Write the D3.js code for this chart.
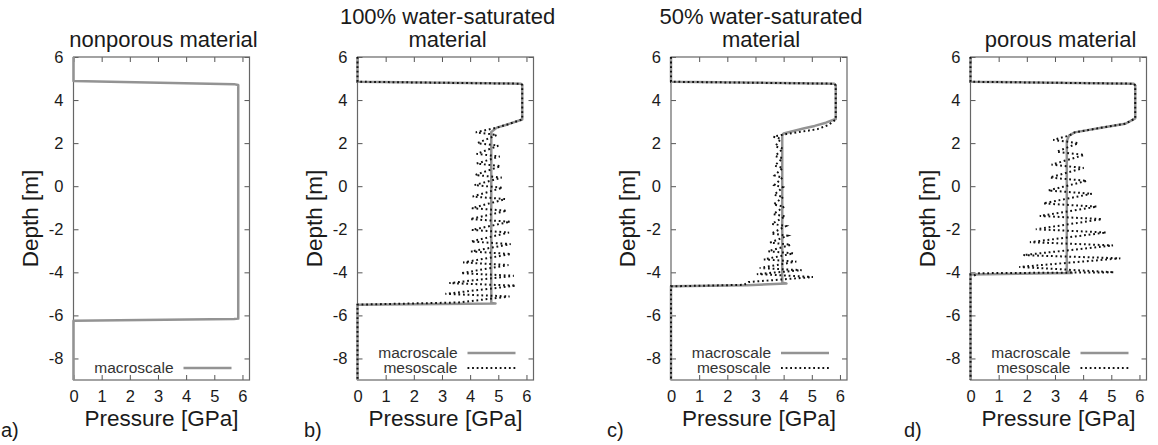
<!DOCTYPE html>
<html>
<head>
<meta charset="utf-8">
<script src="https://cdn.jsdelivr.net/npm/d3@7"></script>
<style>
  body { margin: 0; background: #fff; }
  text { font-family: "Liberation Sans", Arial, Helvetica, sans-serif; fill: #1a1a1a; }
</style>
</head>
<body>
<div id="chart"></div>
<script>

//
// data: points are [pressure in GPa, depth in m]
//
var xTicks = [0, 1, 2, 3, 4, 5, 6];
var yTicks = [-8, -6, -4, -2, 0, 2, 4, 6];

var titles = [
  ["nonporous material"],
  ["100% water-saturated", "material"],
  ["50% water-saturated", "material"],
  ["porous material"]
];
var letters = ["a)", "b)", "c)", "d)"];

var nonporousMacro = [[0,6],[0,4.88],[5.7,4.74],[5.85,4.7],[5.85,-6.15],[5.7,-6.17],[0,-6.25],[0,-9]];

var sat100Macro = [[0,6],[0,4.85],[5.8,4.76],[5.85,4.7],[5.85,3.1],[5.35,2.88],[4.95,2.72],[4.75,2.52],
  [4.75,-5.42],[4.9,-5.45],[0,-5.5],[0,-9]];
var sat100Meso = [[0,6],[0,4.85],[5.8,4.76],[5.85,4.7],[5.85,3.1],[5.35,2.88],[4.95,2.72],
  [4.2,2.5],[4.95,2.38],[4.26,2.0],[5.0,1.88],[4.23,1.5],[5.05,1.38],[4.23,1.05],[5.08,0.93],
  [4.18,0.52],[5.12,0.4],[4.15,0.05],[5.15,-0.07],[4.09,-0.48],[5.25,-0.6],[4.06,-1.02],[5.3,-1.14],
  [4.0,-1.53],[5.42,-1.65],[4.06,-2.03],[5.38,-2.15],[4.03,-2.57],[5.44,-2.69],[4.03,-3.03],[5.45,-3.15],
  [3.75,-3.54],[5.36,-3.66],[3.67,-4.04],[5.55,-4.16],[3.26,-4.5],[5.62,-4.62],[3.12,-5.0],[5.4,-5.12],
  [3.6,-5.4],[0,-5.5],[0,-9]];

var sat50Macro = [[0,6],[0,4.85],[5.8,4.76],[5.85,4.68],[5.85,3.12],[5.5,2.95],[5.1,2.8],[4.7,2.68],
  [4.0,2.45],[3.95,2.35],[3.95,-4.48],[4.1,-4.52],[2.7,-4.6],[0,-4.65],[0,-9]];
var sat50Meso = [[0,6],[0,4.85],[5.8,4.76],[5.85,4.68],[5.85,3.1],[5.6,2.85],[5.2,2.65],[4.1,2.42],[3.92,2.38],
  [3.64,2.3],[3.9,2.2],[3.7,1.85],[3.98,1.75],[3.7,1.4],[3.96,1.3],[3.68,0.95],[3.97,0.85],
  [3.68,0.5],[3.96,0.4],[3.67,0.05],[3.98,-0.05],[3.66,-0.4],[3.99,-0.5],[3.64,-0.85],[4.02,-0.95],
  [3.63,-1.3],[4.06,-1.4],[3.58,-1.75],[4.09,-1.85],[3.56,-2.2],[4.14,-2.3],[3.52,-2.62],[4.25,-2.72],
  [3.45,-3.02],[4.35,-3.12],[3.3,-3.4],[4.45,-3.5],[3.15,-3.8],[4.64,-3.9],[3.05,-4.08],[5.04,-4.22],
  [2.75,-4.45],[2.6,-4.58],[0,-4.65],[0,-9]];

var porousMacro = [[0,6],[0,4.85],[5.8,4.76],[5.85,4.68],[5.85,3.15],[5.5,2.9],[4.8,2.75],[3.7,2.5],
  [3.5,2.35],[3.42,2.1],[3.42,-3.95],[3.6,-4.03],[0,-4.1],[0,-9]];
var porousMeso = [[0,6],[0,4.85],[5.8,4.76],[5.85,4.68],[5.85,3.15],[5.5,2.9],[4.8,2.75],[3.7,2.5],[3.5,2.35],
  [2.94,2.15],[3.83,2.0],[3.06,1.6],[4.04,1.45],[2.88,1.0],[4.02,0.85],[2.82,0.4],[4.13,0.25],
  [2.76,-0.2],[4.31,-0.35],[2.58,-0.8],[4.49,-0.95],[2.46,-1.38],[4.67,-1.53],[2.32,-2.0],[4.82,-2.15],
  [2.11,-2.6],[5.06,-2.75],[1.87,-3.2],[5.32,-3.35],[1.73,-3.75],[5.1,-4.0],[0.3,-4.04],[0.12,-4.15],
  [0,-4.1],[0,-9]];


//
// setup
//
var width = 1158,
    height = 445,
    plotTop = 57,
    plotW = 176,
    plotH = 323;

var svg = d3.select("#chart")
    .append("svg")
    .attr("width", width)
    .attr("height", height);

var x = d3.scaleLinear().domain([0, 6.25]).range([0, plotW]);
var y = d3.scaleLinear().domain([-9, 6]).range([plotH, 0]);

var line = d3.line()
    .x(function(d) { return x(d[0]); })
    .y(function(d) { return y(d[1]); });

var intFmt = d3.format("d");
var dots = "1.8 2.8";

drawPanel(73.5, 0, nonporousMacro, null);
drawPanel(357.5, 1, sat100Macro, sat100Meso);
drawPanel(671, 2, sat50Macro, sat50Meso);
drawPanel(970.5, 3, porousMacro, porousMeso);


function drawPanel(left, i, macro, meso) {
  var g = svg.append("g")
      .attr("transform", "translate(" + left + "," + plotTop + ")");

  // axes, ticks pointing inwards on all four sides
  var bottom = g.append("g")
      .attr("transform", "translate(0," + plotH + ")")
      .call(d3.axisBottom(x).tickValues(xTicks).tickFormat(intFmt).tickSize(-5).tickPadding(10));
  var topAx = g.append("g")
      .call(d3.axisTop(x).tickValues(xTicks).tickSize(-5).tickFormat(""));
  var leftAx = g.append("g")
      .call(d3.axisLeft(y).tickValues(yTicks).tickFormat(intFmt).tickSize(-5).tickPadding(10));
  var rightAx = g.append("g")
      .attr("transform", "translate(" + plotW + ",0)")
      .call(d3.axisRight(y).tickValues(yTicks).tickSize(-5).tickFormat(""));

  [bottom, topAx, leftAx, rightAx].forEach(function(a) {
    a.select(".domain").remove();
    a.selectAll(".tick line").attr("stroke", "#555");
    a.selectAll("text")
        .attr("font-size", 16.5)
        .attr("font-family", "'Liberation Sans', Arial, sans-serif")
        .style("fill", "#1a1a1a");
  });
  leftAx.selectAll("text").text(function(d) { return d < 0 ? "-" + Math.abs(d) : d; });

  g.append("rect")
      .attr("width", plotW)
      .attr("height", plotH)
      .attr("fill", "none")
      .attr("stroke", "#666")
      .attr("stroke-width", 1.2);

  // curves
  g.append("path")
      .datum(macro)
      .attr("d", line)
      .attr("fill", "none")
      .attr("stroke", "#939393")
      .attr("stroke-width", 2.5)
      .attr("stroke-linejoin", "round");

  if (meso) {
    g.append("path")
        .datum(meso)
        .attr("d", line)
        .attr("fill", "none")
        .attr("stroke", "#111")
        .attr("stroke-width", 2)
        .attr("stroke-dasharray", dots);
  }

  // legend
  var entries = meso ? ["macroscale", "mesoscale"] : ["macroscale"];
  entries.forEach(function(name, k) {
    var base = plotH - 7 - (entries.length - 1 - k) * 15;
    g.append("text")
        .attr("x", plotW - 76)
        .attr("y", base)
        .attr("text-anchor", "end")
        .attr("font-size", 15.5)
        .style("fill", "#333")
        .text(name);
    var s = g.append("line")
        .attr("x1", plotW - 66)
        .attr("x2", plotW - 18)
        .attr("y1", base - 5)
        .attr("y2", base - 5)
        .attr("fill", "none");
    if (k === 0) {
      s.attr("stroke", "#939393").attr("stroke-width", 2.5);
    } else {
      s.attr("stroke", "#111").attr("stroke-width", 2).attr("stroke-dasharray", dots);
    }
  });

  // titles and labels
  var t = titles[i];
  t.forEach(function(s, k) {
    g.append("text")
        .attr("x", plotW / 2 + 2)
        .attr("y", -10 - (t.length - 1 - k) * 23)
        .attr("text-anchor", "middle")
        .attr("font-size", 22)
        .text(s);
  });

  g.append("text")
      .attr("x", plotW / 2)
      .attr("y", plotH + 46)
      .attr("text-anchor", "middle")
      .attr("font-size", 22.5)
      .text("Pressure [GPa]");

  g.append("text")
      .attr("transform", "translate(-36," + (plotH / 2) + ") rotate(-90)")
      .attr("text-anchor", "middle")
      .attr("font-size", 22.5)
      .text("Depth [m]");

  g.append("text")
      .attr("x", -left + [1, 304, 607, 904][i])
      .attr("y", plotH + 57)
      .attr("font-size", 20)
      .text(letters[i]);
}
</script>
</body>
</html>
